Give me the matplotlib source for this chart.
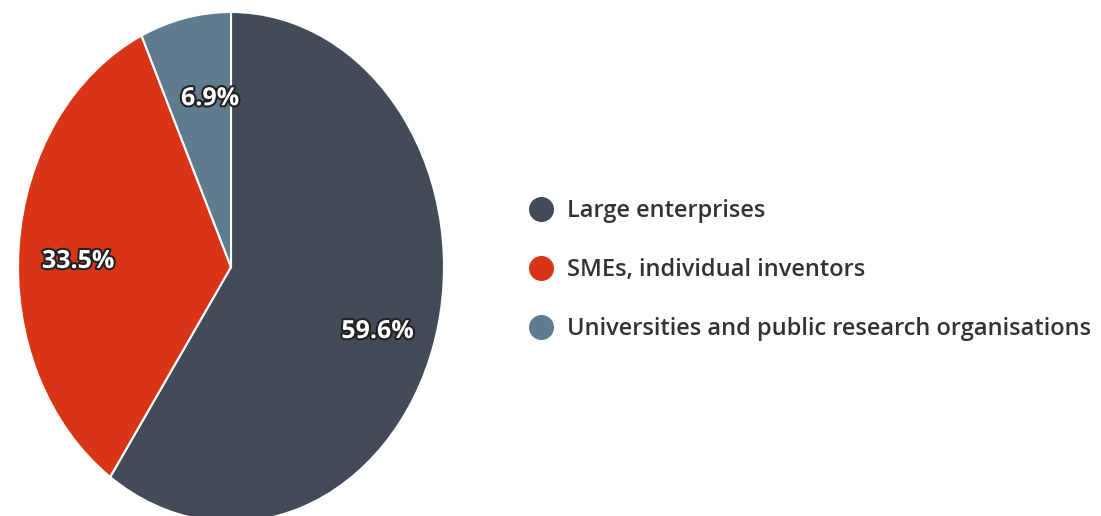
import matplotlib.pyplot as plt
import matplotlib.patheffects as pe
import matplotlib.transforms as mtransforms
from matplotlib.lines import Line2D

categories = ['Large enterprises', 'SMEs, individual inventors',
              'Universities and public research organisations']
shares = [59.6, 33.5, 6.9]
colors = ['#434a58', '#d93416', '#5f7b8e']

plt.rcParams['font.family'] = ['Open Sans', 'DejaVu Sans']

fig = plt.figure(figsize=(11.01, 5.16), dpi=100)
# pie drawn as a vertically stretched ellipse, like the reference
ax = fig.add_axes([18 / 1101, -6 / 516, 426 / 1101, 510 / 516])
wedges, texts, autotexts = ax.pie(
    shares, colors=colors, startangle=90, counterclock=False,
    autopct='%.1f%%', pctdistance=0.72,
    wedgeprops=dict(edgecolor='white', linewidth=1.5))
ax.set_aspect('auto')
ax.set_xlim(-1, 1)
ax.set_ylim(-1, 1)
nudges = [(0, -10), (0, -10), (12, -11)]
for t, (dx, dy) in zip(autotexts, nudges):
    t.set_color('white')
    t.set_fontsize(18)
    t.set_fontweight('bold')
    t.set_path_effects([pe.withStroke(linewidth=3, foreground='#222222')])
    t.set_transform(ax.transData + mtransforms.ScaledTranslation(dx / 100, dy / 100, fig.dpi_scale_trans))

handles = [Line2D([], [], marker='o', linestyle='none', markersize=17,
                  markerfacecolor=c, markeredgecolor=c) for c in colors]
leg = fig.legend(handles, categories, loc='center left',
                 bbox_to_anchor=(508 / 1101, 1 - 270 / 516),
                 frameon=False, fontsize=17, labelspacing=1.48,
                 handletextpad=0.6, handlelength=1.0)
for t in leg.get_texts():
    t.set_color('#333333')
    t.set_fontweight('semibold')

fig.savefig('out.png', dpi=100)
